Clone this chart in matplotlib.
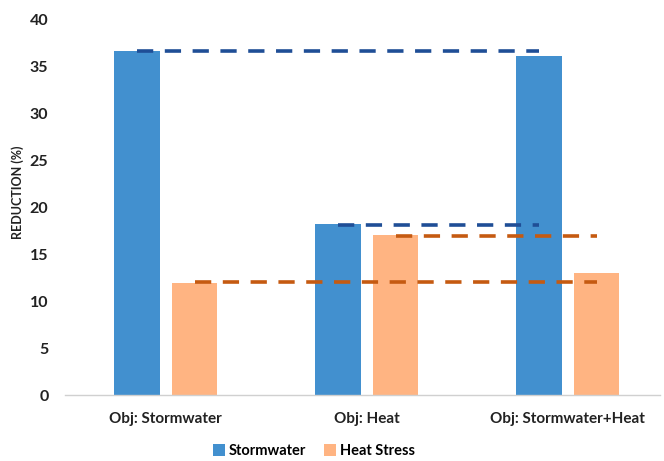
import matplotlib
matplotlib.use("Agg")
import matplotlib.pyplot as plt
import numpy as np

categories = ["Obj: Stormwater", "Obj: Heat", "Obj: Stormwater+Heat"]
stormwater = [36.7, 18.2, 36.1]
heat_stress = [12.0, 17.1, 13.0]
yticks = [0, 5, 10, 15, 20, 25, 30, 35, 40]

# reference dashed lines: (series, start category, end category, level)
ref_series = ["Stormwater", "Stormwater", "Heat Stress", "Heat Stress"]
ref_start = [0, 1, 1, 0]
ref_end = [2, 2, 2, 2]
ref_level = [36.7, 18.15, 17.0, 12.1]

plt.rcParams['font.family'] = ['Lato', 'DejaVu Sans']

blue = "#4290CF"
orange = "#FFB482"
dblue = "#1F4E96"
dorange = "#C55A11"

fig = plt.figure(figsize=(6.64, 4.61), dpi=100)
ax = fig.add_axes([0.098, 0.143, 0.896, 0.814])

x = np.arange(len(categories))
w = 0.228
off = 0.144
ax.bar(x - off, stormwater, w, color=blue, label="Stormwater", zorder=2)
ax.bar(x + off, heat_stress, w, color=orange, label="Heat Stress", zorder=2)

for s, a, b, lv in zip(ref_series, ref_start, ref_end, ref_level):
    o = -off if s == "Stormwater" else off
    c = dblue if s == "Stormwater" else dorange
    ax.plot([a + o, b + o], [lv, lv], color=c, lw=2.6, dashes=(4.5, 3.2), zorder=3)

ax.set_xlim(-0.5, 2.46)
ax.set_ylim(0, 40)
ax.set_yticks(yticks)
ax.set_yticklabels([str(t) for t in yticks], fontsize=11.5, fontweight='bold', color="#222222")
ax.set_xticks(x)
ax.set_xticklabels(categories, fontsize=11, fontweight='bold', color="#222222")
ax.tick_params(axis='both', length=0)
ax.tick_params(axis='x', pad=12)
ax.tick_params(axis='y', pad=12)
for sp in ["top", "right", "left"]:
    ax.spines[sp].set_visible(False)
ax.spines["bottom"].set_color("#D0D0D0")
ax.spines["bottom"].set_linewidth(1.0)

fig.text(0.027, 0.583, "REDUCTION (%)", rotation=90, ha='center', va='center',
         fontsize=9, fontweight='bold', color="#222222")

handles, labels = ax.get_legend_handles_labels()
fig.legend(handles, labels, loc='center', bbox_to_anchor=(0.473, 0.022), ncol=2,
           frameon=False, handlelength=0.8, handleheight=0.9, handletextpad=0.3,
           columnspacing=1.2, prop={'size': 10.5, 'weight': 'bold'})

fig.savefig("out.png", dpi=100)
